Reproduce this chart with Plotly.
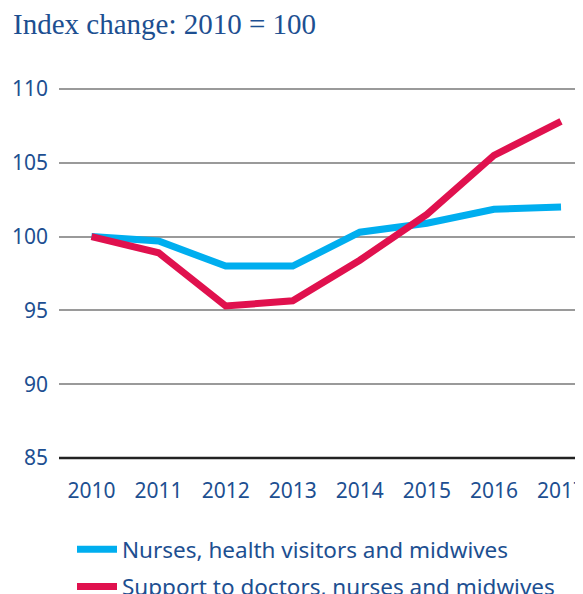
import plotly.graph_objects as go

years = [2010, 2011, 2012, 2013, 2014, 2015, 2016, 2017]
nurses = [100.0, 99.7, 98.0, 98.0, 100.3, 100.9, 101.85, 102.0]
support = [100.0, 98.9, 95.3, 95.65, 98.4, 101.5, 105.5, 107.8]
series_names = ["Nurses, health visitors and midwives",
                "Support to doctors, nurses and midwives"]
y_ticks = [85, 90, 95, 100, 105, 110]

TEXT = "#1D4F91"
BLUE = "#00AEEF"
RED = "#E0114E"

W, H = 583, 594

fig = go.Figure()
fig.add_trace(go.Scatter(x=years, y=nurses, mode="lines", name=series_names[0],
                         legendgroup="a",
                         line=dict(color=BLUE, width=7)))
fig.add_trace(go.Scatter(x=years, y=support, mode="lines", name=series_names[1],
                         legendgroup="b",
                         line=dict(color=RED, width=7)))

fig.update_layout(
    width=W, height=H,
    margin=dict(l=51, r=0, t=78, b=141, autoexpand=False),
    paper_bgcolor="white", plot_bgcolor="white",
    font=dict(family="Noto Sans", size=21, color=TEXT),
    title=dict(text="Index change: 2010 = 100", x=5 / W, xanchor="left",
               y=1 - 16 / H, yanchor="middle",
               font=dict(family="Liberation Serif", size=29, color=TEXT)),
    xaxis=dict(range=[2009.515, 2017.447], tickmode="array", tickvals=years,
               ticktext=[str(y) for y in years], showgrid=False, zeroline=False,
               showline=False, ticks="", ticklabelstandoff=15, tickangle=0,
               automargin=False, fixedrange=True),
    yaxis=dict(range=[84.8, 110.2], tickmode="array", tickvals=y_ticks,
               showgrid=True, gridcolor="#9a9a9a", gridwidth=2,
               zeroline=False, showline=False, ticks="",
               ticklabelstandoff=10, automargin=False, fixedrange=True),
    legend=dict(orientation="v", xref="container", yref="container",
                x=64 / W, xanchor="left", y=1 - 520 / H, yanchor="top",
                tracegroupgap=5, itemwidth=40,
                font=dict(size=22.5, color=TEXT),
                bgcolor="rgba(0,0,0,0)"),
    showlegend=True,
)

# black baseline at 85
fig.add_shape(type="line", xref="paper", yref="y", x0=0, x1=1, y0=85, y1=85,
              line=dict(color="#222222", width=2.5))

fig.write_html("out.html")
